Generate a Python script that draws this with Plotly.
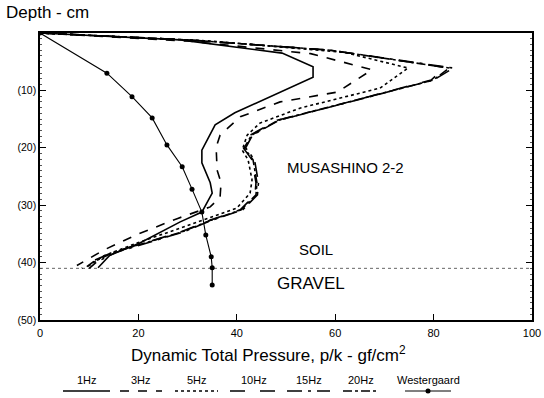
import plotly.graph_objects as go

# ---- data (pressure in gf/cm2 vs depth in cm) ----
hz1_p = [0, 28.5, 49.2, 55.5, 55.5, 39.6, 35.6, 32.9, 32.9, 34.6, 35.0, 32.9, 28.5, 20.3, 14.2, 11.8]
hz1_d = [0, 1.2, 3.5, 5.9, 7.7, 13.9, 16.0, 20.4, 22.6, 26.1, 27.9, 31.2, 32.9, 36.6, 38.7, 40.9]

hz3_p = [0, 30, 55, 67.5, 60.4, 48.8, 40.7, 36.6, 35.8, 36.0, 36.8, 36.6, 34.6, 28.0, 20.0, 13.0, 7.5]
hz3_d = [0, 1.4, 3.6, 6.4, 10.3, 12.0, 14.6, 17.8, 19.9, 23.9, 26.1, 28.6, 30.3, 32.3, 35.0, 37.8, 40.5]

hz5_p = [0, 35, 62, 74.8, 69.1, 52.8, 44.7, 42.1, 41.1, 42.3, 43.1, 42.7, 40.0, 34.6, 28.5, 20.0, 13.0, 9.5]
hz5_d = [0, 1.4, 3.4, 6.1, 9.6, 13.1, 15.7, 17.8, 20.4, 22.1, 25.6, 27.9, 30.5, 32.2, 34.0, 36.5, 38.8, 40.8]

hz10_p = [0, 30, 59, 82.3, 79.5, 58.9, 48.2, 42.7, 41.3, 43.1, 43.9, 43.7, 40.7, 34.6, 28.5, 14.8, 10.2, 8.5]
hz10_d = [0, 1.2, 3.0, 6.0, 8.2, 12.9, 15.2, 17.8, 20.0, 22.1, 26.1, 28.2, 30.8, 32.6, 34.7, 38.2, 39.9, 41.0]

hz15_p = [0, 30, 59, 84.0, 80.0, 59.3, 48.6, 43.2, 41.8, 43.6, 44.4, 44.2, 41.2, 35.0, 29.0, 15.5, 11.5, 10.0]
hz15_d = [0, 1.2, 3.0, 6.1, 8.2, 12.9, 15.2, 17.8, 20.0, 22.1, 26.1, 28.2, 30.8, 32.6, 34.7, 38.2, 39.9, 41.0]

hz20_p = [0, 30, 59, 83.2, 79.9, 59.0, 48.4, 43.0, 41.5, 43.3, 44.1, 43.9, 40.9, 34.8, 28.7, 15.0, 10.8, 9.0]
hz20_d = [0, 1.2, 3.0, 6.1, 8.2, 12.9, 15.2, 17.8, 20.0, 22.1, 26.1, 28.2, 30.8, 32.6, 34.7, 38.2, 39.9, 41.0]

west_p = [0, 13.6, 18.7, 22.8, 25.8, 28.9, 30.9, 32.9, 33.7, 34.8, 35.0, 35.0]
west_d = [0, 7.0, 11.1, 14.8, 19.5, 23.3, 27.2, 31.2, 35.2, 39.0, 40.9, 43.9]

gravel_depth = 41
x_ticks = [0, 20, 40, 60, 80, 100]
y_ticks = [10, 20, 30, 40, 50]
y_ticktext = ["(10)", "(20)", "(30)", "(40)", "(50)"]

series = [
    ("1Hz", hz1_p, hz1_d, "solid"),
    ("3Hz", hz3_p, hz3_d, "dash"),
    ("5Hz", hz5_p, hz5_d, "dot"),
    ("10Hz", hz10_p, hz10_d, "longdash"),
    ("15Hz", hz15_p, hz15_d, "longdashdot"),
    ("20Hz", hz20_p, hz20_d, "dashdot"),
]

FONT = "Liberation Sans, Arial, sans-serif"
fig = go.Figure()

# gravel boundary
fig.add_trace(go.Scatter(x=[0, 100], y=[gravel_depth, gravel_depth], mode="lines",
                         line=dict(color="#666", width=1, dash="dot"), showlegend=False,
                         hoverinfo="skip"))

for name, p, d, dash in series:
    fig.add_trace(go.Scatter(x=p, y=d, mode="lines", name=name,
                             line=dict(color="black", width=1.6, dash=dash),
                             showlegend=False))

fig.add_trace(go.Scatter(x=west_p, y=west_d, mode="lines+markers", name="Westergaard",
                         line=dict(color="black", width=1.1),
                         marker=dict(color="black", size=5), showlegend=False))

# custom legend: label above a line sample
L, R, T, B = 40, 12, 33, 78
W, H = 544 - L - R, 398 - T - B
def px(xp):
    return (xp - L) / W
def py(yp):
    return (398 - B - yp) / H

legend_items = [
    ("1Hz", "solid", 63, 110),
    ("3Hz", "dash", 120, 162),
    ("5Hz", "dot", 175, 218),
    ("10Hz", "longdash", 230, 277),
    ("15Hz", "longdashdot", 287, 330),
    ("20Hz", "dashdot", 343, 378),
    ("Westergaard", "solid", 405, 451),
]
shapes = []
annotations = []
for name, dash, x0, x1 in legend_items:
    shapes.append(dict(type="line", xref="paper", yref="paper", x0=px(x0), x1=px(x1),
                       y0=py(391), y1=py(391),
                       line=dict(color="black", width=1.4 if name != "Westergaard" else 1, dash=dash)))
    annotations.append(dict(xref="paper", yref="paper", x=px((x0 + x1) / 2), y=py(380),
                            xanchor="center", yanchor="middle",
                            text=name, showarrow=False, font=dict(size=11, family=FONT, color="black")))
wx = (405 + 451) / 2
shapes.append(dict(type="circle", xref="paper", yref="paper", x0=px(wx - 2.5), x1=px(wx + 2.5),
                   y0=py(393.5), y1=py(388.5), fillcolor="black", line=dict(color="black", width=0)))

annotations += [
    dict(x=62, y=23.5, xref="x", yref="y", text="MUSASHINO 2-2", showarrow=False,
         xanchor="center", yanchor="middle", font=dict(size=15, family=FONT, color="black")),
    dict(x=56, y=37.7, xref="x", yref="y", text="SOIL", showarrow=False,
         xanchor="center", yanchor="middle", font=dict(size=15, family=FONT, color="black")),
    dict(x=55, y=43.6, xref="x", yref="y", text="GRAVEL", showarrow=False,
         xanchor="center", yanchor="middle", font=dict(size=17, family=FONT, color="black")),
    dict(x=px(4), y=py(13), xref="paper", yref="paper", xanchor="left", yanchor="middle",
         text="Depth - cm", showarrow=False, font=dict(size=17, family=FONT, color="black")),
    dict(x=px(268), y=py(354), xref="paper", yref="paper", xanchor="center", yanchor="middle",
         text="Dynamic Total Pressure, p/k - gf/cm<sup>2</sup>",
         showarrow=False, font=dict(size=17, family=FONT, color="black")),
]

fig.update_layout(
    width=544, height=398,
    margin=dict(l=L, r=R, t=T, b=B),
    paper_bgcolor="white", plot_bgcolor="white",
    font=dict(family=FONT, color="black"),
    shapes=shapes, annotations=annotations,
    showlegend=False,
)
fig.update_xaxes(range=[0, 100], tickvals=x_ticks, ticks="inside", ticklen=6, tickcolor="black",
                 showgrid=False, zeroline=False, showline=True, linecolor="black", linewidth=1.5,
                 mirror=True, tickfont=dict(size=11, family=FONT), ticklabelstandoff=2,
                 automargin=False)
fig.update_yaxes(range=[50, 0], tickvals=y_ticks, ticktext=y_ticktext, ticks="inside", ticklen=6,
                 tickcolor="black", showgrid=False, zeroline=False, showline=True,
                 linecolor="black", linewidth=1.5, mirror="ticks", tickfont=dict(size=10.5, family=FONT),
                 minor=dict(ticks="inside", ticklen=2, dtick=1, tickcolor="#555"),
                 automargin=False)

fig.write_html("out.html")
